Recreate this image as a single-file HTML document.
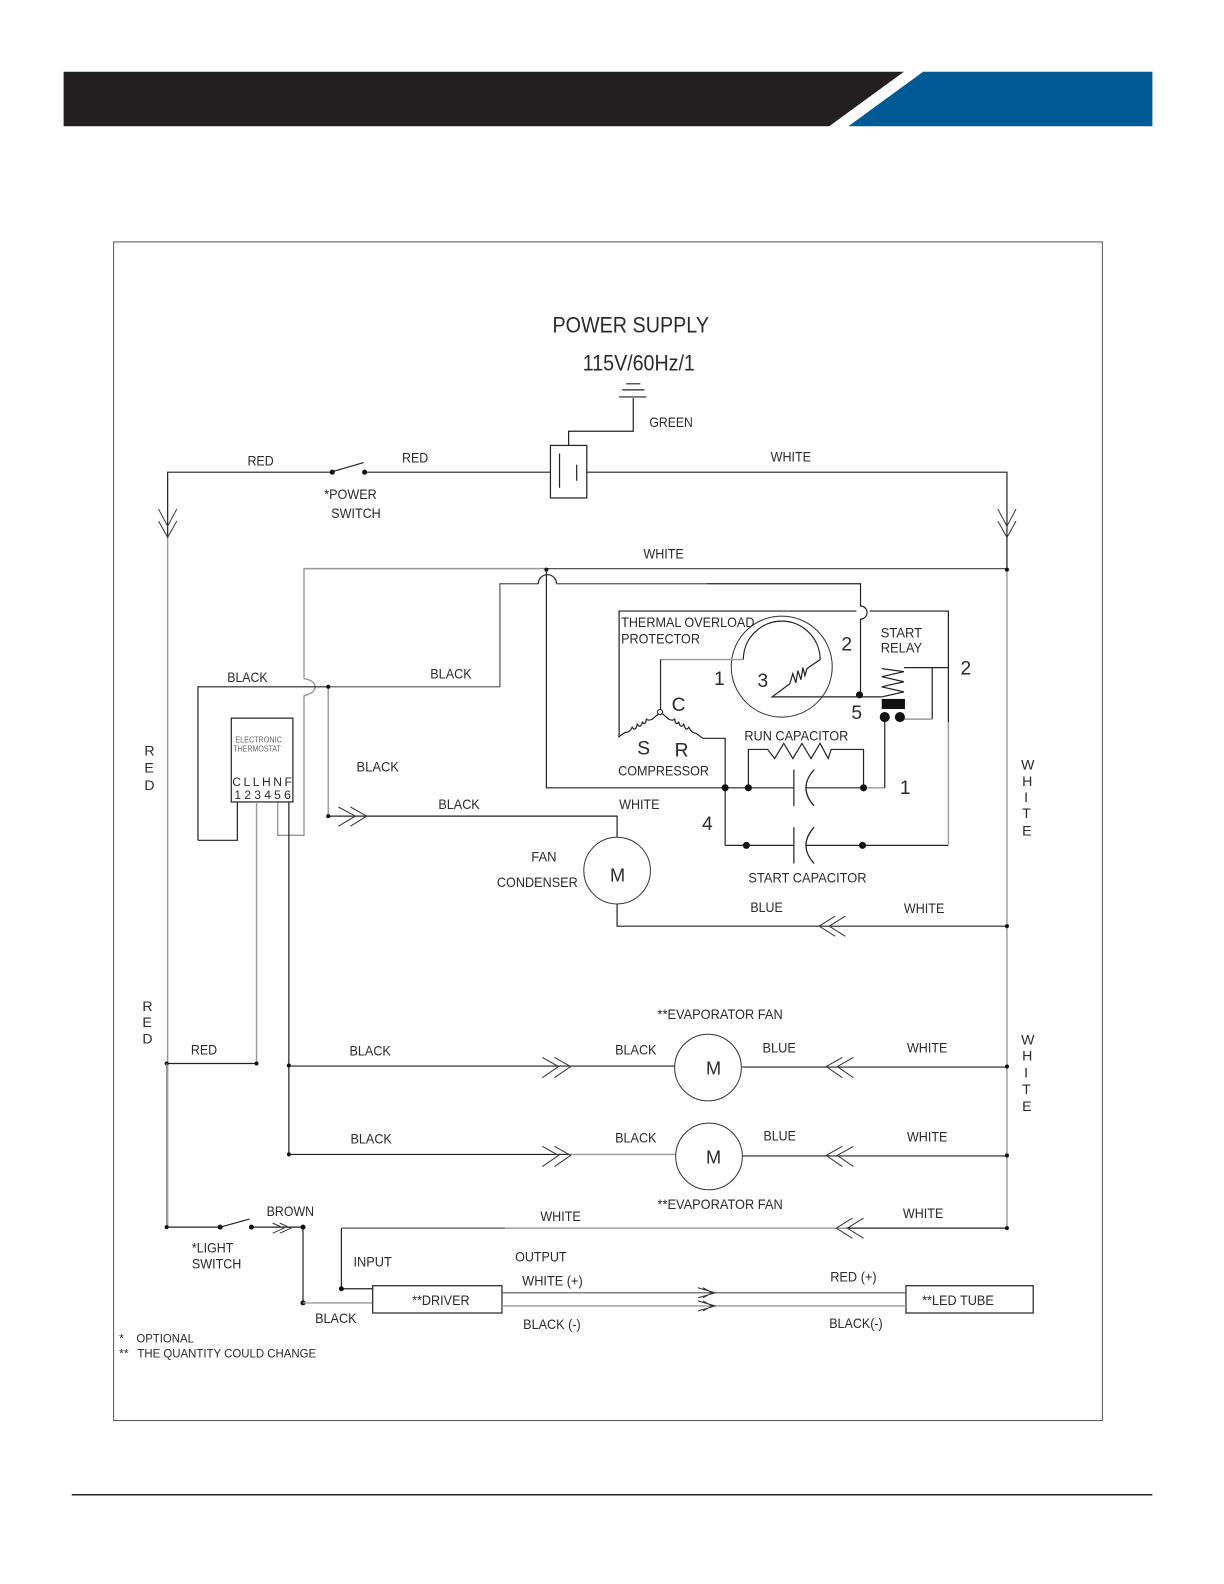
<!DOCTYPE html>
<html><head><meta charset="utf-8"><style>
html,body{margin:0;padding:0;background:#fff;overflow:hidden}
svg{display:block}
text{font-family:"Liberation Sans",sans-serif;font-size:14px;fill:#2a2a2a}
.k{fill:none;stroke:#222;stroke-width:1.2}
.m{fill:none;stroke:#555;stroke-width:1.2}
.g{fill:none;stroke:#999;stroke-width:1.4}
.t{fill:none;stroke:#333;stroke-width:1}
.d{fill:#111}
</style></head><body>
<svg width="1224" height="1584" viewBox="0 0 1211.9 1568.3" xmlns="http://www.w3.org/2000/svg">
<polygon points="63,71 895,71 821,125 63,125" fill="#231f20"/>
<polygon points="914,71 1141,71 1141,125 840,125" fill="#005a96"/>
<rect x="112.5" y="239.5" width="979" height="1167" fill="none" stroke="#555" stroke-width="1"/>
<line x1="71" y1="1480" x2="1141" y2="1480" stroke="#222" stroke-width="1.5"/>

<!-- ground and terminal -->
<path class="k" d="M620 380H634M616 386H638M613 393H640M627 394V427H563V441"/>
<rect class="k" x="545" y="441" width="36" height="52"/>
<path class="k" d="M554 449V483M571 460V476"/>

<!-- main supply -->
<path class="k" d="M166 467.5H329M361 467.5H545M581 467.5H997V563M166 467V532M329 467L360 458"/>
<path class="g" d="M166 532V1215M997 563V1215"/>
<circle class="d" cx="329" cy="467.5" r="2.5"/><circle class="d" cx="361" cy="467.5" r="2.5"/>
<path class="t" d="M157 504L166 521L175 504M157 516L166 532L175 516M988 504L997 521L1006 504M988 516L997 532L1006 516"/>

<!-- white line and thermostat wires -->
<path class="g" d="M301 672V563H541"/>
<path class="m" d="M541 563H997"/>
<path class="g" d="M301 672C308 673 312 676 312 680C312 685 307 687 301 689V827H275V794"/>
<circle class="d" cx="541" cy="564" r="2"/><circle class="d" cx="997" cy="564" r="2"/>
<path class="k" d="M196 832V680H325"/>
<path class="m" d="M325 680H495V578H533"/>
<path class="k" d="M533 578A9 9 0 0 1 551 578"/>
<path class="m" d="M551 578H700"/><path class="k" d="M700 578H852V600A5 5 0 0 1 852 613V688"/>
<path class="k" d="M196 832H235V794"/>
<rect class="k" x="229" y="711" width="61" height="83"/>
<path class="g" d="M254 794V1053"/>
<path class="k" d="M286 794V1143M165 1053H254"/>
<circle class="d" cx="254" cy="1053" r="2"/><circle class="d" cx="286" cy="1055" r="2"/><circle class="d" cx="286" cy="1143" r="2"/><circle class="d" cx="165" cy="1053" r="2"/>

<!-- condenser fan -->
<path class="g" d="M325 680V808"/>
<path class="k" d="M325 808H363H611V829"/>
<circle class="d" cx="325" cy="680" r="2"/><circle class="d" cx="325" cy="808" r="2"/>
<path class="t" d="M335 799L352 808L335 818M347 799L363 808L347 818"/>
<circle class="t" cx="611" cy="862" r="33"/>
<path class="k" d="M611 895V917H997"/>
<path class="t" d="M827 907L811 917L827 927M837 907L821 917L837 927"/>
<circle class="d" cx="997" cy="917" r="2"/>

<!-- compressor section -->
<path class="k" d="M541 563V780H786"/>
<path class="k" d="M613 730V605H848M861 605H939V715"/>
<path class="g" d="M939 715V836"/>
<circle cx="774" cy="660" r="50" class="t"/>
<path class="k" d="M736 653A37.5 37.5 0 0 1 812 653L799 662L797 669L795 661L793 673L790 664L788 676L785 667L782 677L764.5 690H851H873"/>
<path class="g" d="M654 653H736"/>
<path class="k" d="M654 705V653"/>
<path class="k" d="M654 705L646 712Q642 714 640 712Q639 719 636 715Q634 722 631 717Q629 725 626 720Q623 726 619 725L612 730"/>
<path class="k" d="M654 705L662 712Q666 714 668 712Q669 719 672 715Q674 722 677 717Q679 725 682 720Q685 726 689 726L696 731H718V837"/>
<circle cx="653.5" cy="705" r="2.6" fill="#fff" stroke="#222"/>
<path class="k" d="M741 780V742H760L767 751L776 736L785 751L794 736L803 751L812 736L820 751L823 742H855V780"/>
<path class="k" d="M786 762V798M786 819V855"/>
<path class="k" d="M806 762Q790 780 806 798M806 819Q790 837 806 855"/>
<path class="k" d="M798 780H855M718 837H786M798 837H939"/>
<path class="g" d="M855 780H876"/><path class="k" d="M876 780V710"/>
<path class="k" d="M873 690L895 685L873 680L895 675L873 670L895 665L873 662M895 661H939M923 661V712"/>
<path class="g" d="M891 712H923"/>
<rect x="873" y="692" width="23" height="10" fill="#111"/>
<circle class="d" cx="876" cy="710" r="5"/><circle class="d" cx="891" cy="710" r="5"/>
<circle class="d" cx="718" cy="780" r="3.5"/><circle class="d" cx="741" cy="780" r="3.5"/><circle class="d" cx="855" cy="780" r="3.5"/>
<circle class="d" cx="739" cy="837" r="3.5"/><circle class="d" cx="854" cy="837" r="3.5"/><circle class="d" cx="851" cy="688" r="3.5"/>

<!-- evaporator fans -->
<path class="k" d="M286 1055.5H668M735 1056.5H997M286 1143H565M735 1144.5H997"/>
<path class="g" d="M565 1143H669"/>
<path class="t" d="M537 1047L553 1056L537 1067M549 1047L565 1056L549 1067"/>
<path class="t" d="M537 1135L553 1144L537 1155M549 1135L565 1144L549 1155"/>
<path class="t" d="M834 1047L818 1056L834 1067M845 1047L829 1056L845 1067"/>
<path class="t" d="M834 1135L818 1144L834 1155M845 1135L829 1144L845 1155"/>
<circle class="t" cx="701" cy="1057" r="33"/><circle class="t" cx="702" cy="1145" r="33"/>
<circle class="d" cx="997" cy="1056" r="2"/><circle class="d" cx="997" cy="1144" r="2"/>

<!-- light and driver -->
<path class="k" d="M165 1215H218L247 1207M249 1215H300V1290"/>
<path class="g" d="M165 1053V1215"/>
<circle class="d" cx="165" cy="1215" r="2"/><circle class="d" cx="218" cy="1215" r="2.5"/><circle class="d" cx="249" cy="1215" r="2.5"/><circle class="d" cx="300" cy="1215" r="2.5"/><circle class="d" cx="300" cy="1290" r="2.5"/>
<path class="t" d="M270 1211L281 1216L270 1221M277 1211L288 1216L277 1221"/>
<path class="g" d="M300 1290H369"/>
<path class="k" d="M369 1276H338V1216"/><path class="m" d="M338 1216H500"/><path class="g" d="M500 1216H838"/><path class="k" d="M838 1216H997"/>
<circle class="d" cx="338" cy="1276" r="2.5"/><circle class="d" cx="997" cy="1216" r="2"/>
<path class="t" d="M844 1206L828 1216L844 1226M855 1206L839 1216L855 1226"/>
<rect class="k" x="369" y="1273" width="128" height="27"/>
<rect class="k" x="897" y="1273" width="126" height="27"/>
<path class="m" d="M497 1280H897"/><path class="g" d="M497 1293H897"/>
<path class="t" d="M691 1275L708 1280L691 1285M696 1275L705 1280L696 1285M691 1288L708 1293L691 1298M696 1288L705 1293L696 1298"/>

<!-- labels -->
<text x="547" y="329" style="font-size:22px" textLength="155" lengthAdjust="spacingAndGlyphs">POWER SUPPLY</text>
<text x="577" y="367" style="font-size:22px" textLength="111" lengthAdjust="spacingAndGlyphs">115V/60Hz/1</text>
<text x="643" y="423" textLength="43" lengthAdjust="spacingAndGlyphs">GREEN</text>
<text x="245" y="461" textLength="26" lengthAdjust="spacingAndGlyphs">RED</text>
<text x="398" y="458" textLength="26" lengthAdjust="spacingAndGlyphs">RED</text>
<text x="763" y="457" textLength="40" lengthAdjust="spacingAndGlyphs">WHITE</text>
<text x="321" y="494" textLength="52" lengthAdjust="spacingAndGlyphs">*POWER</text>
<text x="328" y="513" textLength="49" lengthAdjust="spacingAndGlyphs">SWITCH</text>
<text x="637" y="553" textLength="40" lengthAdjust="spacingAndGlyphs">WHITE</text>
<text x="225" y="675" textLength="40" lengthAdjust="spacingAndGlyphs">BLACK</text>
<text x="426" y="672" textLength="41" lengthAdjust="spacingAndGlyphs">BLACK</text>
<text x="353" y="764" textLength="42" lengthAdjust="spacingAndGlyphs">BLACK</text>
<text x="434" y="801" textLength="41" lengthAdjust="spacingAndGlyphs">BLACK</text>
<text x="613" y="801" textLength="40" lengthAdjust="spacingAndGlyphs">WHITE</text>
<text x="526" y="853" textLength="25" lengthAdjust="spacingAndGlyphs">FAN</text>
<text x="492" y="878" textLength="80" lengthAdjust="spacingAndGlyphs">CONDENSER</text>
<text x="604" y="873" style="font-size:18px">M</text>
<text x="615" y="621" textLength="132" lengthAdjust="spacingAndGlyphs">THERMAL OVERLOAD</text>
<text x="615" y="637" textLength="78" lengthAdjust="spacingAndGlyphs">PROTECTOR</text>
<text x="872" y="631" textLength="41" lengthAdjust="spacingAndGlyphs">START</text>
<text x="872" y="646" textLength="41" lengthAdjust="spacingAndGlyphs">RELAY</text>
<text x="833" y="644" style="font-size:19px">2</text>
<text x="951" y="668" style="font-size:19px">2</text>
<text x="707" y="678" style="font-size:19px">1</text>
<text x="750" y="680" style="font-size:19px">3</text>
<text x="665" y="704" style="font-size:19px">C</text>
<text x="843" y="712" style="font-size:19px">5</text>
<text x="631" y="747" style="font-size:19px">S</text>
<text x="668" y="749" style="font-size:19px">R</text>
<text x="737" y="733" textLength="103" lengthAdjust="spacingAndGlyphs">RUN CAPACITOR</text>
<text x="612" y="768" textLength="90" lengthAdjust="spacingAndGlyphs">COMPRESSOR</text>
<text x="891" y="786" style="font-size:19px">1</text>
<text x="695" y="822" style="font-size:19px">4</text>
<text x="741" y="874" textLength="117" lengthAdjust="spacingAndGlyphs">START CAPACITOR</text>
<text x="743" y="903" textLength="32" lengthAdjust="spacingAndGlyphs">BLUE</text>
<text x="895" y="904" textLength="40" lengthAdjust="spacingAndGlyphs">WHITE</text>
<text x="233" y="735" style="font-size:8px;fill:#666" textLength="46" lengthAdjust="spacingAndGlyphs">ELECTRONIC</text>
<text x="231" y="744" style="font-size:8px;fill:#666" textLength="47" lengthAdjust="spacingAndGlyphs">THERMOSTAT</text>
<text x="230" y="778" style="font-size:12px" textLength="59" lengthAdjust="spacing">CLLHNF</text>
<text x="232" y="791" style="font-size:12px" textLength="56" lengthAdjust="spacing">123456</text>
<text x="143" y="748">R</text><text x="143" y="765">E</text><text x="143" y="782">D</text>
<text x="141" y="1001">R</text><text x="141" y="1017">E</text><text x="141" y="1033">D</text>
<text x="1011" y="762">W</text><text x="1012" y="778">H</text><text x="1014" y="794">I</text><text x="1012" y="810">T</text><text x="1012" y="827">E</text>
<text x="1011" y="1034">W</text><text x="1012" y="1050">H</text><text x="1014" y="1067">I</text><text x="1012" y="1083">T</text><text x="1012" y="1100">E</text>
<text x="651" y="1009" textLength="124" lengthAdjust="spacingAndGlyphs">**EVAPORATOR FAN</text>
<text x="651" y="1197" textLength="124" lengthAdjust="spacingAndGlyphs">**EVAPORATOR FAN</text>
<text x="189" y="1044" textLength="26" lengthAdjust="spacingAndGlyphs">RED</text>
<text x="346" y="1045" textLength="41" lengthAdjust="spacingAndGlyphs">BLACK</text>
<text x="609" y="1044" textLength="41" lengthAdjust="spacingAndGlyphs">BLACK</text>
<text x="755" y="1042" textLength="33" lengthAdjust="spacingAndGlyphs">BLUE</text>
<text x="898" y="1042" textLength="40" lengthAdjust="spacingAndGlyphs">WHITE</text>
<text x="699" y="1064" style="font-size:18px">M</text>
<text x="347" y="1132" textLength="41" lengthAdjust="spacingAndGlyphs">BLACK</text>
<text x="609" y="1131" textLength="41" lengthAdjust="spacingAndGlyphs">BLACK</text>
<text x="756" y="1129" textLength="32" lengthAdjust="spacingAndGlyphs">BLUE</text>
<text x="898" y="1130" textLength="40" lengthAdjust="spacingAndGlyphs">WHITE</text>
<text x="699" y="1152" style="font-size:18px">M</text>
<text x="264" y="1204" textLength="47" lengthAdjust="spacingAndGlyphs">BROWN</text>
<text x="535" y="1209" textLength="40" lengthAdjust="spacingAndGlyphs">WHITE</text>
<text x="894" y="1206" textLength="40" lengthAdjust="spacingAndGlyphs">WHITE</text>
<text x="190" y="1240" textLength="41" lengthAdjust="spacingAndGlyphs">*LIGHT</text>
<text x="190" y="1256" textLength="49" lengthAdjust="spacingAndGlyphs">SWITCH</text>
<text x="350" y="1254" textLength="38" lengthAdjust="spacingAndGlyphs">INPUT</text>
<text x="510" y="1249" textLength="51" lengthAdjust="spacingAndGlyphs">OUTPUT</text>
<text x="517" y="1273" textLength="60" lengthAdjust="spacingAndGlyphs">WHITE (+)</text>
<text x="822" y="1269" textLength="46" lengthAdjust="spacingAndGlyphs">RED (+)</text>
<text x="408" y="1292" textLength="57" lengthAdjust="spacingAndGlyphs">**DRIVER</text>
<text x="913" y="1292" textLength="71" lengthAdjust="spacingAndGlyphs">**LED TUBE</text>
<text x="312" y="1310" textLength="41" lengthAdjust="spacingAndGlyphs">BLACK</text>
<text x="518" y="1316" textLength="57" lengthAdjust="spacingAndGlyphs">BLACK (-)</text>
<text x="821" y="1315" textLength="53" lengthAdjust="spacingAndGlyphs">BLACK(-)</text>
<text x="118" y="1329" style="font-size:12px">*</text>
<text x="135" y="1329" style="font-size:12px" textLength="57" lengthAdjust="spacingAndGlyphs">OPTIONAL</text>
<text x="118" y="1344" style="font-size:12px">**</text>
<text x="136" y="1344" style="font-size:12px" textLength="177" lengthAdjust="spacingAndGlyphs">THE QUANTITY COULD CHANGE</text>
</svg>
</body></html>
